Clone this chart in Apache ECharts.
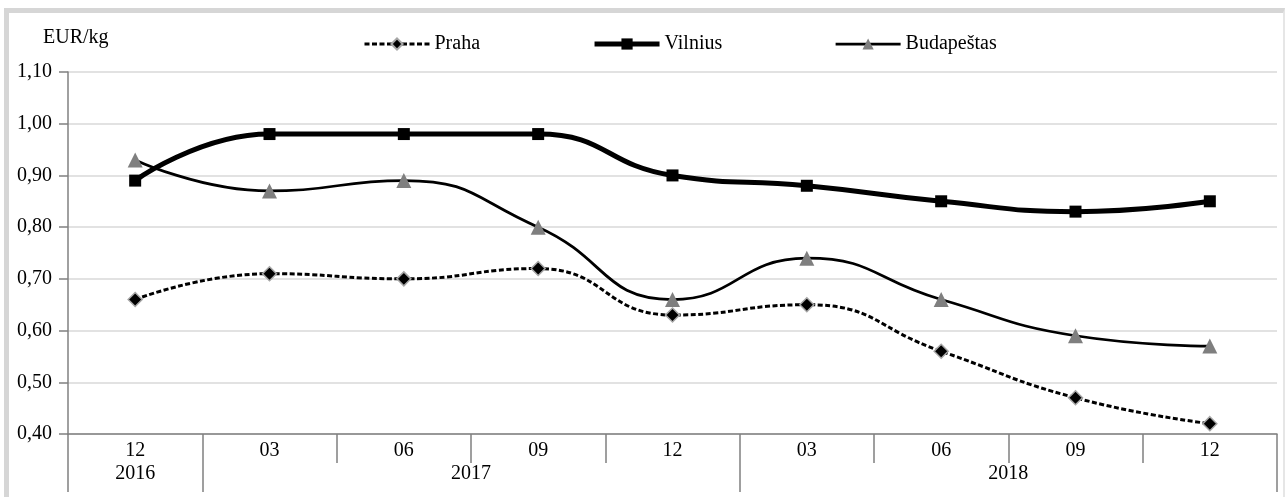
<!DOCTYPE html>
<html>
<head>
<meta charset="utf-8">
<script src="https://cdn.jsdelivr.net/npm/echarts@6/dist/echarts.min.js"></script>
<style>
html,body{margin:0;padding:0;background:#fff;}
#chart{position:absolute;left:0;top:0;width:1285px;height:497px;}
#frame{position:absolute;left:4px;top:8px;width:1274px;height:500px;border-top:5px solid #d6d6d6;border-left:5px solid #d6d6d6;border-right:2px solid #e6e6e6;pointer-events:none;}
</style>
</head>
<body>
<div id="chart"></div>
<div id="frame"></div>
<script>
const categories = ['12','03','06','09','12','03','06','09','12'];
const years = ['2016','2017','2018'];
const yearTickPos = [0, 1, 5, 9];
const yearLabelPos = [0.5, 3, 7];
const praha = [0.66, 0.71, 0.70, 0.72, 0.63, 0.65, 0.56, 0.47, 0.42];
const vilnius = [0.89, 0.98, 0.98, 0.98, 0.90, 0.88, 0.85, 0.83, 0.85];
const budapestas = [0.93, 0.87, 0.89, 0.80, 0.66, 0.74, 0.66, 0.59, 0.57];

const FONT = 'Liberation Serif';
const chart = echarts.init(document.getElementById('chart'));
chart.setOption({
  animation: false,
  backgroundColor: '#fff',
  textStyle: {fontFamily: FONT},
  title: {
    text: 'EUR/kg', left: 38, top: 23,
    textStyle: {fontFamily: FONT, fontSize: 20, fontWeight: 'normal', color: '#000'}
  },
  legend: {
    left: 358, top: 29, itemWidth: 65, itemHeight: 14, itemGap: 112,
    textStyle: {fontFamily: FONT, fontSize: 20, color: '#000'},
    data: [
      {name: 'Praha', lineStyle: {width: 3, type: [5, 2.5]}},
      {name: 'Vilnius', lineStyle: {width: 5}},
      {name: 'Budapeštas', lineStyle: {width: 2.75}}
    ]
  },
  grid: {left: 68, right: 8, top: 72, bottom: 63, containLabel: false},
  xAxis: [{
    type: 'category', data: categories, boundaryGap: true,
    axisLine: {lineStyle: {color: '#808080', width: 1.5}},
    axisTick: {show: true, length: 29, lineStyle: {color: '#808080', width: 1.5}},
    axisLabel: {fontFamily: FONT, fontSize: 20, color: '#000', margin: 7, interval: 0},
    splitLine: {show: false}
  }, {
    type: 'value', min: 0, max: 9, position: 'bottom',
    axisLine: {show: false},
    axisTick: {show: true, length: 58, customValues: yearTickPos, lineStyle: {color: '#808080', width: 1.5}},
    axisLabel: {fontFamily: FONT, fontSize: 20, color: '#000', margin: 30,
      customValues: yearLabelPos,
      formatter: function (v) { const i = yearLabelPos.indexOf(v); return i >= 0 ? years[i] : ''; }},
    splitLine: {show: false}
  }],
  yAxis: {
    type: 'value', min: 0.4, max: 1.1, interval: 0.1,
    axisLine: {show: true, lineStyle: {color: '#808080', width: 1.5}},
    axisTick: {show: true, length: 9, lineStyle: {color: '#808080', width: 1.5}},
    axisLabel: {fontFamily: FONT, fontSize: 20, color: '#000', margin: 16,
      formatter: function (v) { return v.toFixed(2).replace('.', ','); }},
    splitLine: {lineStyle: {color: '#d9d9d9', width: 1.5}}
  },
  series: [{
    name: 'Praha', type: 'line', data: praha, smooth: 0.5,
    symbol: 'diamond', symbolSize: 14,
    lineStyle: {color: '#000', width: 3, type: [5, 2.5]},
    itemStyle: {color: '#000', borderColor: '#a6a6a6', borderWidth: 1.5}
  }, {
    name: 'Vilnius', type: 'line', data: vilnius, smooth: 0.5,
    symbol: 'rect', symbolSize: 12,
    lineStyle: {color: '#000', width: 5},
    itemStyle: {color: '#000'}
  }, {
    name: 'Budapeštas', type: 'line', data: budapestas, smooth: 0.5,
    symbol: 'triangle', symbolSize: 15,
    lineStyle: {color: '#000', width: 2.75},
    itemStyle: {color: '#7f7f7f'}
  }]
});
</script>
</body>
</html>
